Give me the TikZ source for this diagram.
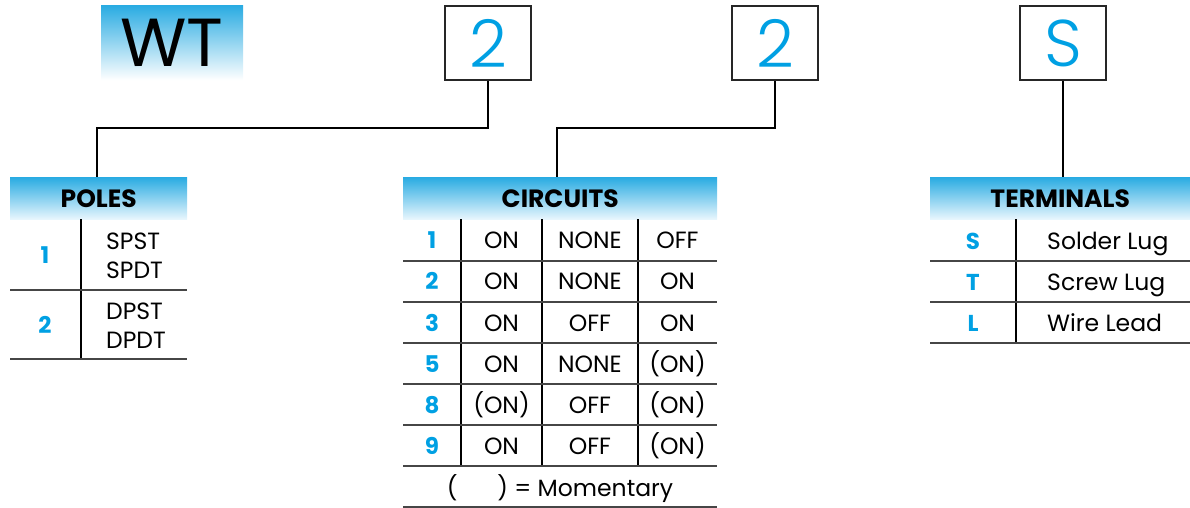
\documentclass[tikz,border=0pt]{standalone}
\usepackage{fontspec}
\setmainfont{Poppins}
\newfontfamily\lightf{Poppins Light}
\definecolor{cblue}{RGB}{0,160,227}
\definecolor{hblue}{RGB}{41,171,226}
\definecolor{hlight}{RGB}{232,246,253}
\definecolor{rulegray}{RGB}{70,70,70}
\begin{document}
\begin{tikzpicture}[x=1pt,y=-1pt,
 codebox/.style={draw=black!85,line width=2.5pt,minimum width=86pt,minimum height=74pt,inner sep=0pt,font=\lightf\fontsize{66}{66}\selectfont,text=cblue},
 hdr/.style={top color=hblue,bottom color=hlight,draw=none,inner sep=0pt,font=\fontsize{25}{25}\selectfont\bfseries,minimum height=42pt,anchor=north west},
 conn/.style={line width=1.2pt},
 hrule/.style={draw=rulegray,line width=1.8pt},
 vrule/.style={line width=1.2pt},
 num/.style={text=cblue,font=\fontsize{23}{23}\selectfont\bfseries,inner sep=0pt,text height=16.5pt,text depth=0pt},
 cell/.style={font=\fontsize{23.5}{23.5}\selectfont,inner sep=0pt,text height=16.5pt,text depth=0pt},
]
\useasboundingbox (0,0) rectangle (1190,508);
% top code
\node[anchor=north west,minimum width=142pt,minimum height=75pt,top color=hblue,bottom color=white,inner sep=0pt,font=\fontsize{68}{68}\selectfont] (wt) at (101,5) {WT};
\node[codebox] (b1) at (488,43) {2};
\node[codebox] (b2) at (775,43) {2};
\node[codebox] (b3) at (1063,43) {S};
% headers
\node[hdr,minimum width=177pt] (ph) at (10,177) {POLES};
\node[hdr,minimum width=314pt] (ch) at (403,177) {CIRCUITS};
\node[hdr,minimum width=260pt] (th) at (930,177) {TERMINALS};
% connectors
\coordinate (pj) at (97,128);
\coordinate (cj) at (557,128);
\draw[conn] (b1.south) |- (pj) -- (pj |- ph.north);
\draw[conn] (b2.south) |- (cj) -- (cj |- ch.north);
\draw[conn] (b3.south) -- (b3.south |- th.north);
% POLES table
\draw[vrule] (81,219) -- (81,359);
\draw[hrule] (10,290) -- (187,290);
\draw[hrule] (10,359) -- (187,359);
\node[num] (p1) at (45,255) {1};
\node[cell,anchor=west] (p1a) at (106,241) {SPST};
\node[cell,anchor=west] (p1b) at (106,270) {SPDT};
\node[num] (p2) at (45,325) {2};
\node[cell,anchor=west] (p2a) at (106,311) {DPST};
\node[cell,anchor=west] (p2b) at (106,340) {DPDT};
% CIRCUITS table
\foreach \x in {461,542,638} \draw[vrule] (\x,219) -- (\x,466);
\foreach \y in {261,302,343,384,425,466,507} \draw[hrule] (403,\y) -- (717,\y);
\foreach \n/\a/\b/\c [count=\i from 0] in {1/ON/NONE/OFF,2/ON/NONE/ON,3/ON/OFF/ON,5/ON/NONE/(ON),8/(ON)/OFF/(ON),9/ON/OFF/(ON)}{
  \pgfmathsetmacro{\yy}{240.5+41.2*\i}
  \node[num] (cn\i) at (432,\yy) {\n};
  \node[cell] (ca\i) at (501.5,\yy) {\a};
  \node[cell] (cb\i) at (590,\yy) {\b};
  \node[cell] (cc\i) at (677.5,\yy) {\c};
}
\node[cell] (mom) at (560,488) {(\hspace{40pt}) = Momentary};
% TERMINALS table
\draw[vrule] (1016,219) -- (1016,343);
\foreach \y in {261,302,343} \draw[hrule] (930,\y) -- (1190,\y);
\node[num] (t1) at (973,241) {S};
\node[cell,anchor=west] (t1a) at (1047,241) {Solder Lug};
\node[num] (t2) at (973,282) {T};
\node[cell,anchor=west] (t2a) at (1047,282) {Screw Lug};
\node[num] (t3) at (973,323) {L};
\node[cell,anchor=west] (t3a) at (1047,323) {Wire Lead};
\end{tikzpicture}
\end{document}
